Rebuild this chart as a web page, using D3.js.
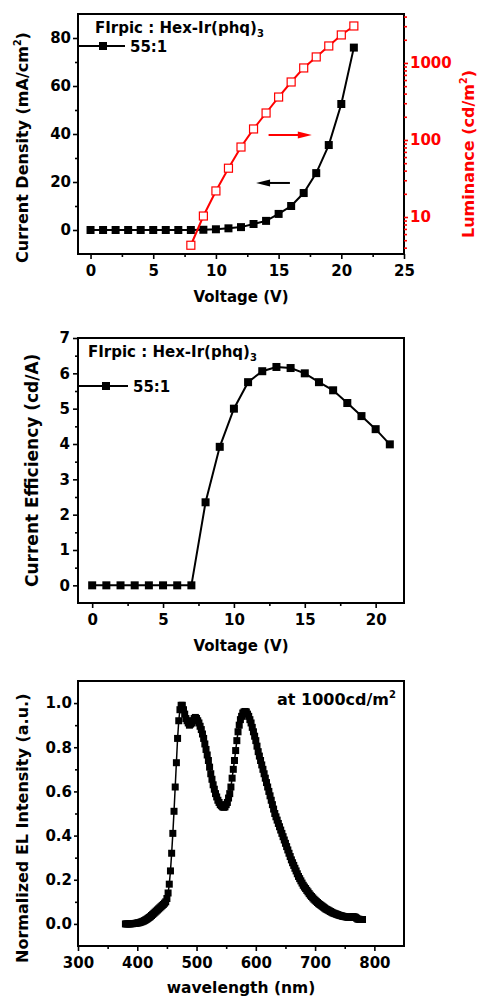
<!DOCTYPE html>
<html>
<head>
<meta charset="utf-8">
<script src="https://cdn.jsdelivr.net/npm/d3@7"></script>
<style>
body { margin: 0; background: #fff; }
svg { display: block; }
text { font-family: "DejaVu Sans", sans-serif; font-weight: bold; }
</style>
</head>
<body>
<svg></svg>
<script>
// panel 1: J-V and L-V
let jvVoltage = [0,1,2,3,4,5,6,7,8,9,10,11,12,13,14,15,16,17,18,19,20,21]
let currentDensity = [0,0,0,0,0,0,0,0,0,0.1,0.3,0.7,1.2,2.5,3.8,6.7,10,15.4,23.7,35.4,52.5,76]
let lumVoltage = [8,9,10,11,12,13,14,15,16,17,18,19,20,21]
let luminance = [4.3,10.3,21.8,43,81,139,224,361,566,861,1197,1662,2310,3020]

// panel 2: efficiency
let ceVoltage = [0,1,2,3,4,5,6,7,8,9,10,11,12,13,14,15,16,17,18,19,20,21]
let efficiency = [0,0,0,0,0,0,0,0,2.35,3.92,5.0,5.75,6.06,6.18,6.15,6.0,5.75,5.52,5.16,4.79,4.42,3.99]

// panel 3: EL spectrum
let wavelength = [380,382,384,386,388,390,392,394,396,398,400,402,404,406,408,410,412,414,416,418,
  420,422,424,426,428,430,432,434,436,438,440,442,444,446,448,450,452,454,456,458,
  460,462,464,466,468,470,472,474,476,478,480,482,484,486,488,490,492,494,496,498,
  500,502,504,506,508,510,512,514,516,518,520,522,524,526,528,530,532,534,536,538,
  540,542,544,546,548,550,552,554,556,558,560,562,564,566,568,570,572,574,576,578,
  580,582,584,586,588,590,592,594,596,598,600,602,604,606,608,610,612,614,616,618,
  620,622,624,626,628,630,632,634,636,638,640,642,644,646,648,650,652,654,656,658,
  660,662,664,666,668,670,672,674,676,678,680,682,684,686,688,690,692,694,696,698,
  700,702,704,706,708,710,712,714,716,718,720,722,724,726,728,730,732,734,736,738,
  740,742,744,746,748,750,752,754,756,758,760,762,764,766,768,770,772,774,776,778,
  780]
let elIntensity = [0,0,0,0,0,0.001,0.001,0.002,0.002,0.003,0.004,0.005,0.006,0.008,0.01,0.012,0.015,0.018,0.021,0.025,
  0.029,0.033,0.038,0.043,0.048,0.053,0.058,0.063,0.068,0.073,0.078,0.083,0.088,0.094,0.1,0.115,0.14,0.18,0.24,0.32,
  0.41,0.51,0.62,0.73,0.84,0.92,0.97,0.99,0.99,0.97,0.95,0.93,0.92,0.91,0.9,0.905,0.91,0.92,0.93,0.935,
  0.93,0.92,0.91,0.895,0.88,0.86,0.84,0.815,0.79,0.765,0.74,0.71,0.68,0.655,0.63,0.61,0.59,0.575,0.56,0.55,
  0.54,0.535,0.53,0.528,0.53,0.54,0.55,0.57,0.59,0.62,0.66,0.7,0.74,0.785,0.83,0.87,0.9,0.925,0.94,0.955,
  0.96,0.962,0.96,0.95,0.94,0.925,0.91,0.89,0.87,0.85,0.83,0.805,0.78,0.76,0.74,0.72,0.7,0.68,0.66,0.64,
  0.62,0.6,0.58,0.56,0.54,0.52,0.5,0.485,0.47,0.455,0.44,0.425,0.41,0.395,0.38,0.365,0.35,0.335,0.32,0.305,
  0.29,0.277,0.265,0.252,0.24,0.227,0.215,0.205,0.195,0.185,0.175,0.167,0.16,0.152,0.145,0.137,0.13,0.124,0.118,0.112,
  0.107,0.102,0.097,0.092,0.088,0.084,0.08,0.076,0.072,0.068,0.065,0.062,0.059,0.056,0.053,0.05,0.048,0.046,0.044,0.042,
  0.04,0.038,0.037,0.035,0.034,0.033,0.032,0.031,0.03,0.03,0.031,0.032,0.033,0.032,0.03,0.026,0.022,0.021,0.02,0.02,
  0.02]

// ticks
let vTicks1 = [0,5,10,15,20,25]
let vMinor1 = [2.5,7.5,12.5,17.5,22.5]
let jTicks = [0,20,40,60,80]
let jMinor = [10,30,50,70]
let lumTicks = [10,100,1000]
let lumMinor = [4,5,6,7,8,9,20,30,40,50,60,70,80,90,200,300,400,500,600,700,800,900,2000,3000,4000]
let vTicks2 = [0,5,10,15,20]
let vMinor2 = [2.5,7.5,12.5,17.5]
let ceTicks = [0,1,2,3,4,5,6,7]
let ceMinor = [0.5,1.5,2.5,3.5,4.5,5.5,6.5]
let wlTicks = [300,400,500,600,700,800]
let wlMinor = [350,450,550,650,750]
let elTicks = [0,0.2,0.4,0.6,0.8,1.0]
let elMinor = [0.1,0.3,0.5,0.7,0.9]

let red = '#ff0000'
let width = 479
let height = 999
let left = 78
let right = 404

let svg = d3.select('svg').attr('width', width).attr('height', height)

let styleAxis = (g, color, size) => {
  g.select('.domain').remove()
  g.selectAll('line').attr('stroke', color).attr('stroke-width', 1.6)
  g.selectAll('text').attr('fill', color).style('font-size', size + 'px')
}

let addAxis = (axis, ticks, minor, translate, color, tsize, pad) => {
  let g = svg.append('g').attr('transform', translate)
    .call(axis.tickValues(ticks).tickSize(tsize).tickPadding(pad))
  styleAxis(g, color, 15)
  let m = svg.append('g').attr('transform', translate)
    .call(axis.tickValues(minor).tickSize(3).tickFormat(''))
  styleAxis(m, color, 15)
  return g
}

let drawBox = (top, bottom) => {
  svg.append('rect')
    .attr('x', left).attr('y', top)
    .attr('width', right - left).attr('height', bottom - top)
    .attr('fill', 'none').attr('stroke', '#000').attr('stroke-width', 2)
}

let squares = (xs, ys, x, y, size, fill, stroke) => {
  svg.append('g').selectAll('rect')
    .data(xs)
    .enter()
    .append('rect')
    .attr('x', (d) => x(d) - size / 2)
    .attr('y', (d, i) => y(ys[i]) - size / 2)
    .attr('width', size).attr('height', size)
    .attr('fill', fill)
    .attr('stroke', stroke)
    .attr('stroke-width', stroke == 'none' ? 0 : 1.2)
}

let drawLine = (xs, ys, x, y, color, w) => {
  svg.append('path')
    .datum(xs)
    .attr('fill', 'none')
    .attr('stroke', color)
    .attr('stroke-width', w)
    .attr('d', d3.line().x((d) => x(d)).y((d, i) => y(ys[i])))
}

let yTitle = (xpos, ypos, size, color, parts) => {
  let t = svg.append('text')
    .attr('transform', 'translate(' + xpos + ',' + ypos + ') rotate(-90)')
    .attr('fill', color)
    .style('font-size', size + 'px')
  parts.forEach((p) => {
    let s = t.append('tspan').text(p[0])
    if (p[1] == 'sup') s.attr('dy', -7).style('font-size', (size * 0.6) + 'px')
    if (p[1] == 'back') s.attr('dy', 7)
  })
  return t
}

// ================= panel 1 =================
let top1 = 14, bot1 = 254
let x1 = d3.scaleLinear().domain([-1, 25]).range([left, right])
let yJ = d3.scaleLinear().domain([-10, 90]).range([bot1, top1])
let yL = d3.scaleLog().domain([3.31, 4320]).range([bot1, top1])

drawBox(top1, bot1)
addAxis(d3.axisBottom(x1), vTicks1, vMinor1, 'translate(0,' + bot1 + ')', '#000', 5, 6)
addAxis(d3.axisLeft(yJ), jTicks, jMinor, 'translate(' + left + ',0)', '#000', 5, 2)
addAxis(d3.axisRight(yL).tickFormat(d3.format('d')), lumTicks, lumMinor, 'translate(' + right + ',0)', red, 4, 2)

drawLine(jvVoltage, currentDensity, x1, yJ, '#000', 2)
squares(jvVoltage, currentDensity, x1, yJ, 8, '#000', 'none')
drawLine(lumVoltage, luminance, x1, yL, red, 2)
squares(lumVoltage, luminance, x1, yL, 8, '#fff', red)

// arrows
let arrow = (v0, v1, j, color) => {
  let y = yJ(j), a = x1(v0), b = x1(v1)
  let dir = b > a ? 1 : -1
  svg.append('line').attr('x1', a).attr('y1', y).attr('x2', b - dir * 10).attr('y2', y)
    .attr('stroke', color).attr('stroke-width', 2)
  svg.append('path')
    .attr('d', 'M' + (b - dir * 14) + ',' + (y - 3.5) + 'L' + b + ',' + y + 'L' + (b - dir * 14) + ',' + (y + 3.5) + 'Z')
    .attr('fill', color)
}
arrow(14.2, 17.65, 39.6, red)
arrow(15.9, 13.2, 19.6, '#000')

// legend
let leg1 = svg.append('text').attr('x', 95).attr('y', 33).style('font-size', '15px')
leg1.append('tspan').text('FIrpic : Hex-Ir(phq)')
leg1.append('tspan').text('3').attr('dy', 4).style('font-size', '10px')
svg.append('line').attr('x1', left).attr('x2', 125).attr('y1', 46).attr('y2', 46)
  .attr('stroke', '#000').attr('stroke-width', 2)
svg.append('rect').attr('x', 99).attr('y', 42).attr('width', 8).attr('height', 8).attr('fill', '#000')
svg.append('text').attr('x', 130).attr('y', 52).style('font-size', '15px').text('55:1')

yTitle(28, 263, 16, '#000', [['Current Density (mA/cm'], ['2', 'sup'], [')', 'back']])
yTitle(474, 238, 16, red, [['Luminance (cd/m'], ['2', 'sup'], [')', 'back']])
svg.append('text').attr('x', (left + right) / 2).attr('y', 302)
  .attr('text-anchor', 'middle').style('font-size', '15px').text('Voltage (V)')

// ================= panel 2 =================
let top2 = 338, bot2 = 603
let x2 = d3.scaleLinear().domain([-1, 22]).range([left, right])
let yC = d3.scaleLinear().domain([-0.5, 7]).range([bot2, top2])

drawBox(top2, bot2)
addAxis(d3.axisBottom(x2), vTicks2, vMinor2, 'translate(0,' + bot2 + ')', '#000', 5, 6)
addAxis(d3.axisLeft(yC), ceTicks, ceMinor, 'translate(' + left + ',0)', '#000', 5, 3)

drawLine(ceVoltage, efficiency, x2, yC, '#000', 2)
squares(ceVoltage, efficiency, x2, yC, 8, '#000', 'none')

let leg2 = svg.append('text').attr('x', 88).attr('y', 357).style('font-size', '15px')
leg2.append('tspan').text('FIrpic : Hex-Ir(phq)')
leg2.append('tspan').text('3').attr('dy', 4).style('font-size', '10px')
svg.append('line').attr('x1', left).attr('x2', 128).attr('y1', 386).attr('y2', 386)
  .attr('stroke', '#000').attr('stroke-width', 2)
svg.append('rect').attr('x', 102).attr('y', 382).attr('width', 8).attr('height', 8).attr('fill', '#000')
svg.append('text').attr('x', 133).attr('y', 392).style('font-size', '15px').text('55:1')

yTitle(38, 587, 17, '#000', [['Current Efficiency (cd/A)']])
svg.append('text').attr('x', (left + right) / 2).attr('y', 651)
  .attr('text-anchor', 'middle').style('font-size', '15px').text('Voltage (V)')

// ================= panel 3 =================
let top3 = 681, bot3 = 946
let x3 = d3.scaleLinear().domain([300, 850]).range([left, right])
let yE = d3.scaleLinear().domain([-0.1, 1.1]).range([bot3, top3])

drawBox(top3, bot3)
addAxis(d3.axisBottom(x3), wlTicks, wlMinor, 'translate(0,' + bot3 + ')', '#000', 5, 6)
addAxis(d3.axisLeft(yE).tickFormat(d3.format('.1f')), elTicks, elMinor, 'translate(' + left + ',0)', '#000', 4, 2)

drawLine(wavelength, elIntensity, x3, yE, '#000', 1.5)
squares(wavelength, elIntensity, x3, yE, 7, '#000', 'none')

let ann = svg.append('text').attr('x', 277).attr('y', 705).style('font-size', '16px')
ann.append('tspan').text('at 1000cd/m')
ann.append('tspan').text('2').attr('dy', -7).style('font-size', '10px')

yTitle(28, 963, 16, '#000', [['Normalized EL Intensity (a.u.)']])
svg.append('text').attr('x', (left + right) / 2).attr('y', 993)
  .attr('text-anchor', 'middle').style('font-size', '15.5px').text('wavelength (nm)')
</script>
</body>
</html>
